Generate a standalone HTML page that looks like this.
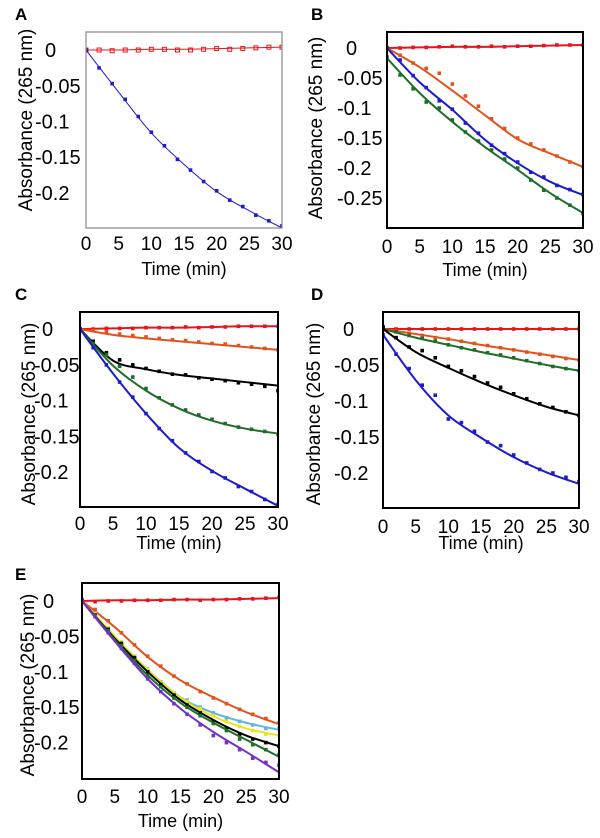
<!DOCTYPE html>
<html><head><meta charset="utf-8">
<style>
body{margin:0;background:#fff;}
svg{display:block;font-family:"Liberation Sans",Arial,sans-serif;}
</style></head>
<body>
<svg id="fig" width="600" height="838" viewBox="0 0 600 838" xmlns="http://www.w3.org/2000/svg"></svg>
<script>
// ---- shared axis data ----
const xTicks = [0,5,10,15,20,25,30];
const fitTimes = [0,5,10,15,20,25,30];
const ptTimes = [0,2,4,6,8,10,12,14,16,18,20,22,24,26,28,30];
const yTicksA = [0,-0.05,-0.1,-0.15,-0.2];
const yTickLabelsA = ["0","-0.05","-0.1","-0.15","-0.2"];
const yTicksB = [0,-0.05,-0.1,-0.15,-0.2,-0.25];
const yTickLabelsB = ["0","-0.05","-0.1","-0.15","-0.2","-0.25"];

// ---- Panel A ----
const A_red_fit = [0,0,0.001,0.001,0.002,0.003,0.004];
const A_red_pts = [0,0,-0.001,0,0,0.001,0.001,0,0,0.001,0.002,0.001,0.002,0.003,0.004,0.004];
const A_blue_fit = [0,-0.059,-0.116,-0.16,-0.198,-0.225,-0.249];
const A_blue_pts = [0,-0.025,-0.047,-0.069,-0.093,-0.115,-0.134,-0.153,-0.168,-0.184,-0.197,-0.21,-0.219,-0.231,-0.239,-0.246];
// ---- Panel B ----
const B_red_fit = [0,0.001,0.002,0.002,0.003,0.004,0.005];
const B_red_pts = [0,0,0.001,0.001,0.002,0.003,0.002,0.002,0.003,0.002,0.003,0.003,0.004,0.005,0.005,0.005];
const B_orange_fit = [0,-0.032,-0.071,-0.112,-0.152,-0.176,-0.198];
const B_orange_pts = [0,-0.012,-0.025,-0.034,-0.042,-0.06,-0.08,-0.097,-0.118,-0.134,-0.15,-0.16,-0.17,-0.18,-0.19,-0.198];
const B_blue_fit = [0,-0.057,-0.103,-0.153,-0.192,-0.223,-0.245];
const B_blue_pts = [0,-0.02,-0.046,-0.066,-0.088,-0.102,-0.125,-0.142,-0.162,-0.176,-0.19,-0.207,-0.215,-0.229,-0.236,-0.244];
const B_green_fit = [-0.017,-0.075,-0.123,-0.165,-0.203,-0.242,-0.275];
const B_green_pts = [-0.015,-0.045,-0.068,-0.09,-0.1,-0.12,-0.14,-0.155,-0.17,-0.185,-0.2,-0.22,-0.237,-0.25,-0.262,-0.276];
// ---- Panel C ----
const C_red_fit = [0,0.001,0.002,0.002,0.003,0.004,0.004];
const C_red_pts = [0,0,0.001,0.001,0.001,0.002,0.002,0.002,0.003,0.002,0.003,0.003,0.004,0.004,0.004,0.004];
const C_orange_fit = [0,-0.008,-0.013,-0.017,-0.021,-0.025,-0.029];
const C_orange_pts = [0,-0.002,-0.004,-0.007,-0.009,-0.011,-0.013,-0.015,-0.016,-0.018,-0.02,-0.021,-0.023,-0.025,-0.027,-0.029];
const C_black_fit = [0,-0.044,-0.056,-0.064,-0.069,-0.074,-0.079];
const C_black_pts = [0,-0.017,-0.033,-0.043,-0.05,-0.055,-0.059,-0.063,-0.064,-0.068,-0.07,-0.072,-0.075,-0.077,-0.08,-0.086];
const C_green_fit = [0,-0.051,-0.086,-0.111,-0.128,-0.139,-0.146];
const C_green_pts = [0,-0.02,-0.036,-0.052,-0.067,-0.083,-0.096,-0.106,-0.113,-0.12,-0.126,-0.132,-0.137,-0.14,-0.143,-0.147];
const C_blue_fit = [0,-0.062,-0.118,-0.166,-0.198,-0.223,-0.247];
const C_blue_pts = [0,-0.026,-0.05,-0.074,-0.095,-0.118,-0.139,-0.156,-0.173,-0.185,-0.199,-0.208,-0.22,-0.227,-0.238,-0.245];
// ---- Panel D ----
const D_red_fit = [0,0,0,0,0,0,0];
const D_red_pts = [0,0,0,0,0,0,0,0,0,0,0,0,0,0,0,0];
const D_orange_fit = [0,-0.007,-0.014,-0.022,-0.029,-0.036,-0.043];
const D_orange_pts = [0,-0.003,-0.006,-0.009,-0.012,-0.014,-0.017,-0.02,-0.023,-0.026,-0.029,-0.032,-0.035,-0.038,-0.041,-0.043];
const D_green_fit = [0,-0.012,-0.022,-0.032,-0.041,-0.05,-0.058];
const D_green_pts = [0.002,-0.004,-0.009,-0.013,-0.017,-0.022,-0.026,-0.029,-0.033,-0.036,-0.04,-0.044,-0.048,-0.052,-0.055,-0.058];
const D_black_fit = [0,-0.032,-0.054,-0.074,-0.092,-0.108,-0.12];
const D_black_pts = [0.003,-0.012,-0.025,-0.03,-0.04,-0.052,-0.058,-0.066,-0.075,-0.081,-0.09,-0.097,-0.104,-0.109,-0.115,-0.12];
const D_blue_fit = [-0.008,-0.071,-0.12,-0.151,-0.178,-0.199,-0.215];
const D_blue_pts = [-0.008,-0.035,-0.055,-0.078,-0.092,-0.125,-0.13,-0.142,-0.157,-0.162,-0.175,-0.186,-0.195,-0.2,-0.206,-0.212];
// ---- Panel E ----
const E_red_fit = [0,0.001,0.001,0.002,0.002,0.003,0.004];
const E_red_pts = [0,-0.001,0,0,0.001,0.001,0.001,0.002,0.002,0.001,0.002,0.002,0.003,0.003,0.004,0.005];
const E_orange_fit = [0,-0.037,-0.079,-0.112,-0.136,-0.157,-0.174];
const E_orange_pts = [0,-0.012,-0.028,-0.045,-0.062,-0.078,-0.092,-0.106,-0.117,-0.128,-0.137,-0.145,-0.153,-0.16,-0.166,-0.172];
const E_cyan_fit = [0,-0.051,-0.097,-0.136,-0.158,-0.172,-0.182];
const E_cyan_pts = [0,-0.017,-0.038,-0.058,-0.078,-0.096,-0.114,-0.13,-0.14,-0.15,-0.158,-0.165,-0.17,-0.175,-0.18,-0.18];
const E_yellow_fit = [0,-0.05,-0.097,-0.137,-0.163,-0.18,-0.19];
const E_yellow_pts = [0,-0.018,-0.038,-0.058,-0.078,-0.097,-0.115,-0.13,-0.142,-0.152,-0.162,-0.17,-0.177,-0.183,-0.188,-0.19];
const E_black_fit = [0,-0.053,-0.1,-0.14,-0.168,-0.19,-0.205];
const E_black_pts = [0,-0.02,-0.04,-0.06,-0.08,-0.1,-0.118,-0.133,-0.147,-0.158,-0.17,-0.18,-0.188,-0.195,-0.2,-0.205];
const E_green_fit = [0,-0.055,-0.105,-0.144,-0.172,-0.196,-0.22];
const E_green_pts = [0.002,-0.021,-0.042,-0.063,-0.084,-0.105,-0.121,-0.137,-0.15,-0.162,-0.173,-0.183,-0.195,-0.203,-0.21,-0.217];
const E_purple_fit = [0,-0.057,-0.11,-0.152,-0.185,-0.213,-0.242];
const E_purple_pts = [0,-0.022,-0.045,-0.067,-0.088,-0.11,-0.128,-0.145,-0.16,-0.175,-0.19,-0.2,-0.21,-0.222,-0.228,-0.232];

const RED="#e8141c", ORANGE="#e2531c", BLUE="#1c1ccc", GREEN="#1f6e2a", BLACK="#000", CYAN="#5cb4e8", YELLOW="#ece41a", PURPLE="#7232c8";

const panels = [
 {id:"a", label:"A", x0:86,x1:282,y0:32,y1:228,top:0.0252,bot:-0.249, frame:"#888", fw:1.2,
  yt:yTicksA, ytl:yTickLabelsA, ylx:35, zlx:45, xlY:250, ttY:275, ytX:25, ytY:120, lx:15, ly:20,
  series:[["red",RED,A_red_fit,A_red_pts,true],["blue",BLUE,A_blue_fit,A_blue_pts,false]], lw:1},
 {id:"b", label:"B", x0:387,x1:583,y0:32,y1:228,top:0.0267,bot:-0.3, frame:"#000", fw:2,
  yt:yTicksB, ytl:yTickLabelsB, ylx:337, zlx:346, xlY:253, ttY:276, ytX:315, ytY:128, lx:311, ly:20,
  series:[["red",RED,B_red_fit,B_red_pts],["orange",ORANGE,B_orange_fit,B_orange_pts],["blue",BLUE,B_blue_fit,B_blue_pts],["green",GREEN,B_green_fit,B_green_pts]], lw:2},
 {id:"c", label:"C", x0:80,x1:278,y0:312,y1:507,top:0.0239,bot:-0.2486, frame:"#000", fw:2,
  yt:yTicksA, ytl:yTickLabelsA, ylx:34, zlx:42, xlY:530, ttY:549, ytX:28, ytY:414, lx:15, ly:300,
  series:[["red",RED,C_red_fit,C_red_pts],["orange",ORANGE,C_orange_fit,C_orange_pts],["black",BLACK,C_black_fit,C_black_pts],["green",GREEN,C_green_fit,C_green_pts],["blue",BLUE,C_blue_fit,C_blue_pts]], lw:2},
 {id:"d", label:"D", x0:383,x1:579,y0:312,y1:508,top:0.0236,bot:-0.2486, frame:"#000", fw:2,
  yt:yTicksA, ytl:yTickLabelsA, ylx:334, zlx:343, xlY:533, ttY:549, ytX:313, ytY:414, lx:311, ly:300,
  series:[["red",RED,D_red_fit,D_red_pts],["orange",ORANGE,D_orange_fit,D_orange_pts],["green",GREEN,D_green_fit,D_green_pts],["black",BLACK,D_black_fit,D_black_pts],["blue",BLUE,D_blue_fit,D_blue_pts]], lw:2},
 {id:"e", label:"E", x0:82,x1:279,y0:583,y1:779,top:0.0254,bot:-0.2514, frame:"#000", fw:2,
  yt:yTicksA, ytl:yTickLabelsA, ylx:34, zlx:43, xlY:803, ttY:827, ytX:27, ytY:685, lx:15, ly:580,
  series:[["red",RED,E_red_fit,E_red_pts],["orange",ORANGE,E_orange_fit,E_orange_pts],["cyan",CYAN,E_cyan_fit,E_cyan_pts],["yellow",YELLOW,E_yellow_fit,E_yellow_pts],["black",BLACK,E_black_fit,E_black_pts],["green",GREEN,E_green_fit,E_green_pts],["purple",PURPLE,E_purple_fit,E_purple_pts]], lw:2}
];

const NS="http://www.w3.org/2000/svg";
const svg=document.getElementById('fig');
function mk(tag,attrs,parent){const e=document.createElementNS(NS,tag);for(const k in attrs)e.setAttribute(k,attrs[k]);(parent||svg).appendChild(e);return e;}

function catmull(pts){
  let d="M"+pts[0][0]+","+pts[0][1];
  for(let i=0;i<pts.length-1;i++){
    const p0=pts[Math.max(0,i-1)],p1=pts[i],p2=pts[i+1],p3=pts[Math.min(pts.length-1,i+2)];
    const c1=[p1[0]+(p2[0]-p0[0])/6,p1[1]+(p2[1]-p0[1])/6];
    const c2=[p2[0]-(p3[0]-p1[0])/6,p2[1]-(p3[1]-p1[1])/6];
    d+=" C"+c1.join(",")+" "+c2.join(",")+" "+p2.join(",");
  }
  return d;
}

panels.forEach(p=>{
  const g=mk('g',{});
  
  
  const xs=t=>p.x0+(t-0)/30*(p.x1-p.x0);
  const ys=v=>p.y0+(p.top-v)/(p.top-p.bot)*(p.y1-p.y0);
  const lab=mk('text',{x:p.lx,y:p.ly,'font-size':17,'font-weight':'bold'},g);
  lab.textContent=p.label;
  
  
  const clipId='clip'+p.id;
  const cp=mk('clipPath',{id:clipId},g);
  mk('rect',{x:p.x0,y:p.y0,width:p.x1-p.x0,height:p.y1-p.y0},cp);
  const plot=mk('g',{'clip-path':'url(#'+clipId+')'},g);
  
  
  p.series.forEach(s=>{
    const [nm,col,fit,pts,open]=s;
    const sg=mk('g',{},plot);
    
    
    pts.forEach((v,i)=>{
      const cx=xs(ptTimes[i]),cy=ys(v);
      let m;
      if(open){m=mk('rect',{x:cx-2,y:cy-2,width:4,height:4,fill:'#fff',stroke:col,'stroke-width':1},sg);}
      else{m=mk('rect',{x:cx-1.8,y:cy-1.8,width:3.6,height:3.6,fill:col},sg);}
      
      
    });
    const path=mk('path',{d:catmull(fit.map((v,i)=>[xs(fitTimes[i]),ys(v)])),fill:'none',stroke:col,'stroke-width':p.lw},sg);
    
    
  });
  const fr=mk('rect',{x:p.x0,y:p.y0,width:p.x1-p.x0,height:p.y1-p.y0,fill:'none',stroke:p.frame,'stroke-width':p.fw},g);
  
  
  p.yt.forEach((v,i)=>{
    const t=mk('text',{x:v===0?p.zlx:p.ylx,y:ys(v)+7,'font-size':20},g);
    t.textContent=p.ytl[i];
    
    
  });
  xTicks.forEach(v=>{
    const t=mk('text',{x:xs(v),y:p.xlY,'font-size':19,'text-anchor':'middle'},g);
    t.textContent=String(v);
    
    
  });
  const xt=mk('text',{x:(p.x0+p.x1)/2,y:p.ttY,'font-size':18,'text-anchor':'middle'},g);
  xt.textContent='Time (min)';
  
  
  const yt=mk('text',{x:0,y:0,'font-size':19,'text-anchor':'middle',transform:'translate('+(p.ytX+7)+','+p.ytY+') rotate(-90)'},g);
  yt.textContent='Absorbance (265 nm)';
  
  
});
</script>
</body></html>
